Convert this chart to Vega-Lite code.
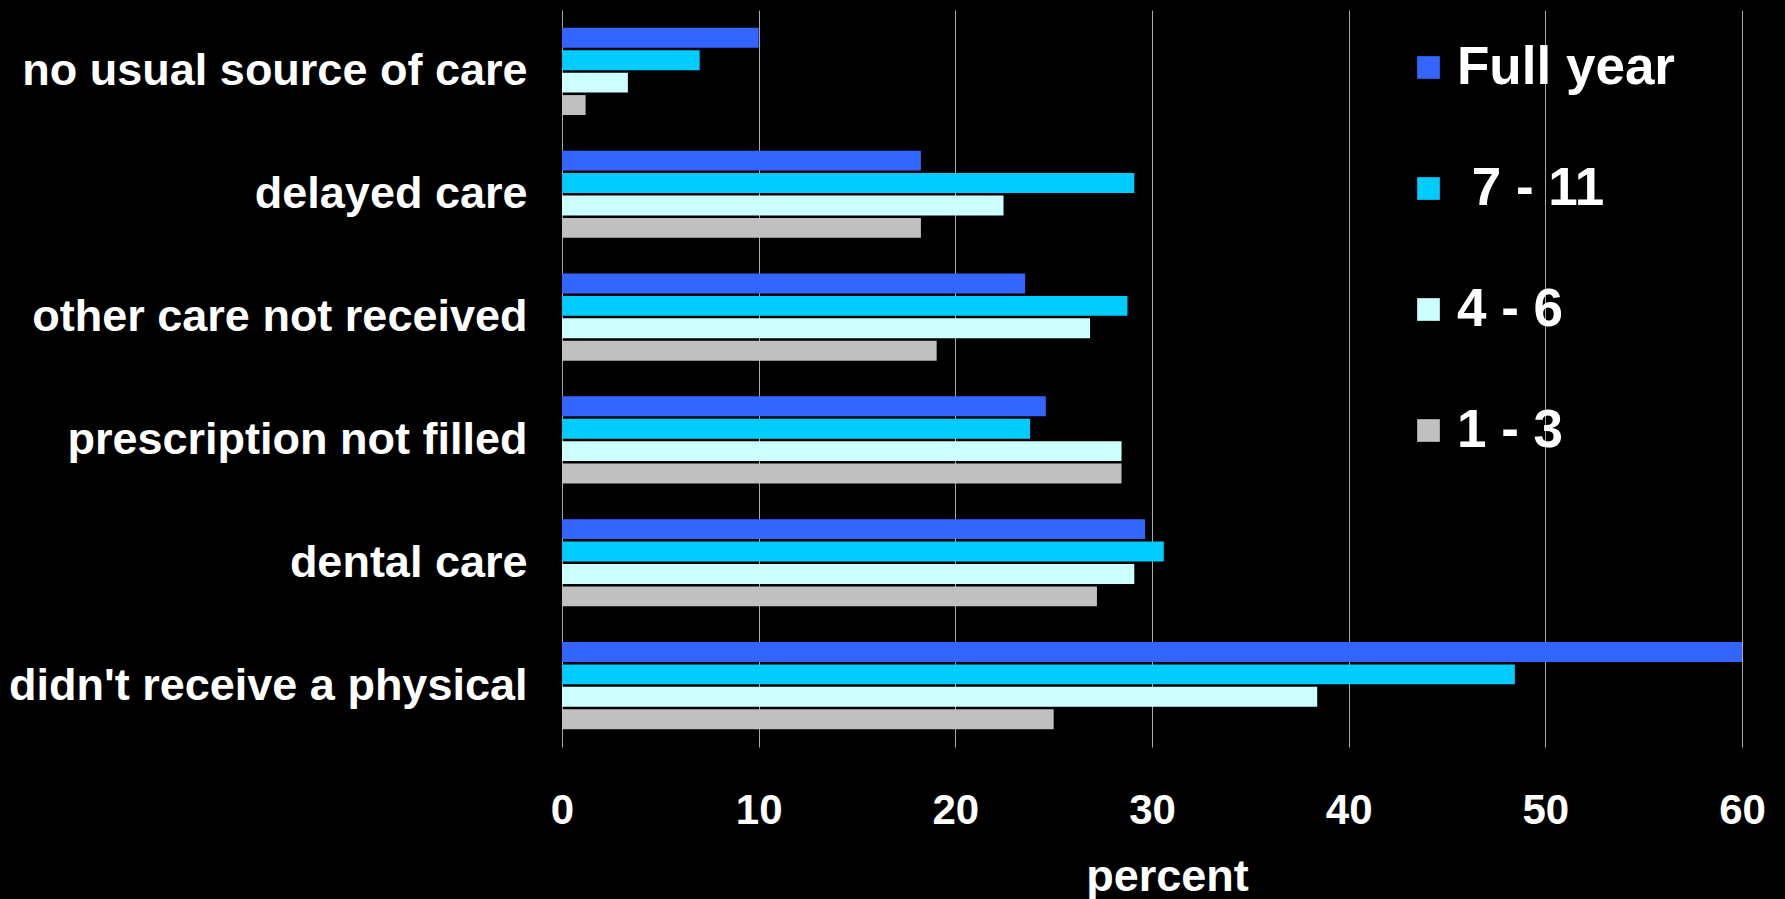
{
  "$schema": "https://vega.github.io/schema/vega-lite/v6.json",
  "autosize": "none",
  "width": 1180,
  "height": 737,
  "padding": {"left": 562, "top": 10, "right": 43, "bottom": 152},
  "background": "#000000",
  "config": {
    "view": {"stroke": null},
    "font": "Liberation Sans",
    "axis": {"labelFont": "Liberation Sans", "titleFont": "Liberation Sans"},
    "legend": {"labelFont": "Liberation Sans"}
  },
  "data": {
    "values": [
      {"item": "no usual source of care", "months": "Full year", "percent": 10.0},
      {"item": "no usual source of care", "months": "7 - 11", "percent": 7.0},
      {"item": "no usual source of care", "months": "4 - 6", "percent": 3.35},
      {"item": "no usual source of care", "months": "1 - 3", "percent": 1.2},
      {"item": "delayed care", "months": "Full year", "percent": 18.25},
      {"item": "delayed care", "months": "7 - 11", "percent": 29.1},
      {"item": "delayed care", "months": "4 - 6", "percent": 22.45},
      {"item": "delayed care", "months": "1 - 3", "percent": 18.25},
      {"item": "other care not received", "months": "Full year", "percent": 23.55},
      {"item": "other care not received", "months": "7 - 11", "percent": 28.75},
      {"item": "other care not received", "months": "4 - 6", "percent": 26.85},
      {"item": "other care not received", "months": "1 - 3", "percent": 19.05},
      {"item": "prescription not filled", "months": "Full year", "percent": 24.6},
      {"item": "prescription not filled", "months": "7 - 11", "percent": 23.8},
      {"item": "prescription not filled", "months": "4 - 6", "percent": 28.45},
      {"item": "prescription not filled", "months": "1 - 3", "percent": 28.45},
      {"item": "dental care", "months": "Full year", "percent": 29.65},
      {"item": "dental care", "months": "7 - 11", "percent": 30.6},
      {"item": "dental care", "months": "4 - 6", "percent": 29.1},
      {"item": "dental care", "months": "1 - 3", "percent": 27.2},
      {"item": "didn't receive a physical", "months": "Full year", "percent": 60.0},
      {"item": "didn't receive a physical", "months": "7 - 11", "percent": 48.45},
      {"item": "didn't receive a physical", "months": "4 - 6", "percent": 38.4},
      {"item": "didn't receive a physical", "months": "1 - 3", "percent": 25.0}
    ]
  },
  "mark": {"type": "bar"},
  "encoding": {
    "y": {
      "field": "item",
      "type": "nominal",
      "sort": null,
      "scale": {"paddingInner": 0.29, "paddingOuter": 0.145},
      "axis": {
        "title": null,
        "domain": false,
        "ticks": false,
        "grid": false,
        "labelColor": "#ffffff",
        "labelFontSize": 45,
        "labelFontWeight": "bold",
        "labelPadding": 35,
        "labelLimit": 600
      }
    },
    "yOffset": {
      "field": "months",
      "type": "nominal",
      "sort": ["Full year", "7 - 11", "4 - 6", "1 - 3"],
      "scale": {"paddingInner": 0.11, "paddingOuter": 0}
    },
    "x": {
      "field": "percent",
      "type": "quantitative",
      "scale": {"domain": [0, 60], "nice": false},
      "axis": {
        "values": [0, 10, 20, 30, 40, 50, 60],
        "title": "percent",
        "titleColor": "#ffffff",
        "titleFontSize": 45,
        "titleFontWeight": "bold",
        "titleBaseline": "alphabetic",
        "titleY": 143,
        "titleX": 605,
        "titleAlign": "center",
        "domain": false,
        "ticks": false,
        "grid": true,
        "gridColor": "#a6a6a6",
        "gridWidth": 1,
        "labelColor": "#ffffff",
        "labelFontSize": 42,
        "labelFontWeight": "bold",
        "labelPadding": 43,
        "labelFlush": false
      }
    },
    "color": {
      "field": "months",
      "type": "nominal",
      "sort": ["Full year", "7 - 11", "4 - 6", "1 - 3"],
      "scale": {
        "domain": ["Full year", "7 - 11", "4 - 6", "1 - 3"],
        "range": ["#3366ff", "#00ccff", "#ccffff", "#c0c0c0"]
      },
      "legend": {
        "title": null,
        "orient": "none",
        "legendX": 840,
        "legendY": 31,
        "padding": 0,
        "symbolType": "square",
        "symbolSize": 515,
        "symbolStrokeWidth": 0,
        "symbolOpacity": 1,
        "labelColor": "#ffffff",
        "labelFontSize": 53,
        "labelFontWeight": "bold",
        "labelOffset": 2,
        "rowPadding": 67,
        "labelLimit": 400,
        "labelExpr": "datum.value == '7 - 11' ? '\u200b\u00a07 - 11' : datum.label"
      }
    }
  }
}
